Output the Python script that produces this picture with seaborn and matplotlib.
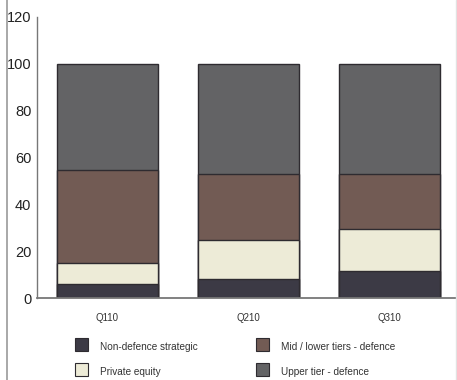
import matplotlib
matplotlib.use("Agg")
import matplotlib.pyplot as plt
import seaborn as sns
import numpy as np
import pandas as pd
from matplotlib.patches import Rectangle
from matplotlib.lines import Line2D

# Share of deals by buyer type, per quarter
quarters = ["Q110", "Q210", "Q310"]
non_defence_strategic = [6.0, 8.2, 11.7]
private_equity = [9.0, 16.7, 17.6]
mid_lower_tiers = [39.5, 27.9, 23.6]
upper_tier = [45.5, 47.2, 47.1]

series_names = ["Non-defence strategic", "Private equity",
                "Mid / lower tiers - defence", "Upper tier - defence"]
series_values = [non_defence_strategic, private_equity, mid_lower_tiers, upper_tier]
series_colors = ["#3c3a45", "#edebd7", "#725b54", "#636365"]

y_ticks = [0, 20, 40, 60, 80, 100, 120]

sns.set_theme(style="white")
plt.rcParams["font.family"] = ["Liberation Sans", "DejaVu Sans"]

fig = plt.figure(figsize=(4.57, 3.80), dpi=100)
ax = fig.add_axes([37 / 457, 1 - 298 / 380, 420 / 457, (298 - 17) / 380])

# Stacked bars: draw cumulative totals from the top layer down
cum = np.cumsum(np.array(series_values), axis=0)
for i in range(len(series_names) - 1, -1, -1):
    df = pd.DataFrame({"quarter": quarters, "value": cum[i]})
    sns.barplot(data=df, x="quarter", y="value", color=series_colors[i],
                saturation=1, width=0.72, edgecolor="#2e2b30", linewidth=1.0, ax=ax)

ax.set_xlim(-0.5, 2.48)
ax.set_ylim(0, 120)
ax.set_yticks(y_ticks)
ax.set_yticklabels([str(t) for t in y_ticks], fontsize=10.5, color="#222222")
ax.tick_params(axis="y", length=0, pad=4)
ax.tick_params(axis="x", length=0, pad=11, labelsize=7, labelcolor="#333333")
ax.set_xlabel("")
ax.set_ylabel("")
for s in ["top", "right"]:
    ax.spines[s].set_visible(False)
ax.spines["left"].set_color("#777777")
ax.spines["left"].set_linewidth(1.0)
ax.spines["bottom"].set_color("#777777")
ax.spines["bottom"].set_linewidth(1.3)

# Legend: two columns of swatches below the plot
W, H = 457, 380
def fx(px):
    return px / W
def fy(py):
    return 1 - py / H

legend_slots = [(75, 338), (75, 363), (256, 338), (256, 363)]
for (sx, sy), name, col in zip(legend_slots, series_names, series_colors):
    fig.add_artist(Rectangle((fx(sx), fy(sy + 13)), 13 / W, 13 / H,
                             transform=fig.transFigure, facecolor=col,
                             edgecolor="#2e2b30", linewidth=0.8))
    fig.text(fx(sx + 25), fy(sy + 9), name, fontsize=7.2, color="#333333",
             va="center", ha="left")

# Page border lines
fig.add_artist(Line2D([fx(7.5), fx(7.5)], [0, 1], transform=fig.transFigure,
                      color="#999999", linewidth=1.2))
fig.add_artist(Line2D([fx(455.5), fx(455.5)], [0, 1], transform=fig.transFigure,
                      color="#e2e2e2", linewidth=1.0))

fig.savefig("out.png", dpi=100)
